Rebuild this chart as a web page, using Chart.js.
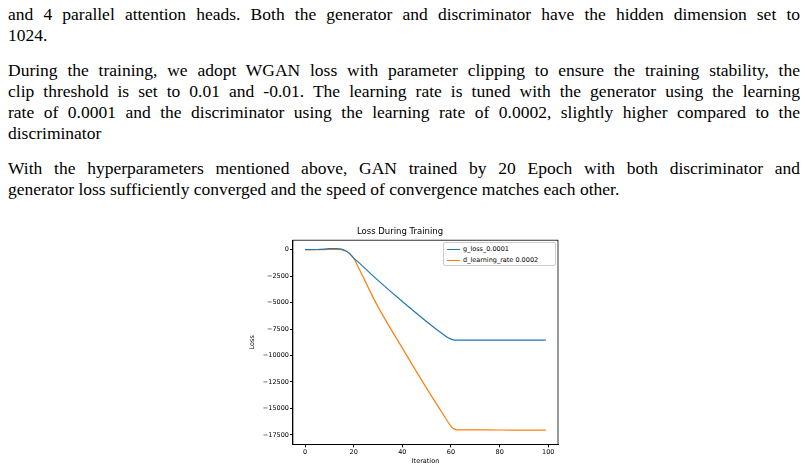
<!DOCTYPE html>
<html>
<head>
<meta charset="utf-8">
<script src="https://cdn.jsdelivr.net/npm/chart.js@4"></script>
<style>
body{margin:0;background:#fff;width:805px;height:465px;overflow:hidden;position:relative}
.txt{position:absolute;left:8px;width:792px;font-family:"Liberation Serif","DejaVu Serif",serif;font-size:17.5px;line-height:21px;color:#000}
.txt div{white-space:nowrap}
.txt .j{text-align:justify;text-align-last:justify;white-space:normal}
.gap{height:14px}
#box{position:absolute;left:240px;top:224px;width:320px;height:241px}
#leg{position:absolute;left:443px;top:242px;width:111px;height:22px;border:1px solid #ccc;border-radius:2px;background:#fff;font-family:"DejaVu Sans",sans-serif;font-size:6.5px;color:#000}
#leg div{position:relative;height:9px;line-height:9px;padding-left:19px;margin-top:2px}
#leg span{position:absolute;left:3px;top:4px;width:13px;height:1.3px}
</style>
</head>
<body>
<div class="txt" style="top:4px">
<div class="j">and 4 parallel attention heads. Both the generator and discriminator have the hidden dimension set to</div>
<div>1024.</div>
<div class="gap"></div>
<div class="j">During the training, we adopt WGAN loss with parameter clipping to ensure the training stability, the</div>
<div class="j">clip threshold is set to 0.01 and -0.01. The learning rate is tuned with the generator using the learning</div>
<div class="j">rate of 0.0001 and the discriminator using the learning rate of 0.0002, slightly higher compared to the</div>
<div>discriminator</div>
<div class="gap"></div>
<div class="j">With the hyperparameters mentioned above, GAN trained by 20 Epoch with both discriminator and</div>
<div>generator loss sufficiently converged and the speed of convergence matches each other.</div>
</div>
<div id="box"><canvas id="c"></canvas></div>
<div id="leg"><div><span style="background:#1f77b4"></span>g_loss_0.0001</div><div><span style="background:#ff7f0e"></span>d_learning_rate 0.0002</div></div>
<script>
const gIter=[0,5,8,10,13,15,17,18,20,22,30,40,50,58,60,61,63,70,80,90,99]
const gLoss=[0,20,60,100,110,60,-150,-300,-800,-1200,-2900,-4900,-6800,-8200,-8450,-8520,-8540,-8545,-8550,-8550,-8550]
const dIter=[0,5,10,13,15,16,18,20,22,30,40,50,58,60,61,62,63,70,80,90,99]
const dLoss=[0,0,20,40,0,-60,-300,-800,-1700,-5400,-9300,-13100,-16000,-16700,-16900,-17000,-17020,-17030,-17040,-17050,-17050]
const xTicks=[0,20,40,60,80,100]
const yTicks=[0,-2500,-5000,-7500,-10000,-12500,-15000,-17500]

const toPts=(xs,ys)=>xs.map((x,i)=>({x:x,y:ys[i]}))
const f={family:"DejaVu Sans",size:6.5}
const frame={id:"frame",afterDraw(ch){const a=ch.chartArea,c=ch.ctx;c.save();c.strokeStyle="#000";c.lineWidth=0.8;c.strokeRect(a.left,a.top,a.right-a.left,a.bottom-a.top);c.restore()}}
new Chart(document.getElementById("c"),{
  type:"line",
  data:{datasets:[
    {label:"g_loss_0.0001",data:toPts(gIter,gLoss),borderColor:"#1f77b4",borderWidth:1.2,pointRadius:0,tension:0.3},
    {label:"d_learning_rate 0.0002",data:toPts(dIter,dLoss),borderColor:"#ff7f0e",borderWidth:1.2,pointRadius:0,tension:0.3}
  ]},
  plugins:[frame],
  options:{
    animation:false,responsive:true,maintainAspectRatio:false,
    layout:{padding:{left:2,right:2,top:0,bottom:0}},
    plugins:{
      title:{display:true,text:"Loss During Training",color:"#000",font:{family:"DejaVu Sans",size:8.5,weight:"normal"},padding:{top:3,bottom:3}},
      legend:{display:false},
      tooltip:{enabled:false}
    },
    scales:{
      x:{type:"linear",min:-5,max:104,grid:{display:true,drawOnChartArea:false,tickLength:3,color:"#000"},border:{color:"#000"},
        afterBuildTicks:a=>{a.ticks=xTicks.map(v=>({value:v}))},
        ticks:{font:f,color:"#000",padding:1},title:{display:true,text:"Iteration",font:f,color:"#000",padding:0}},
      y:{min:-18400,max:900,grid:{display:true,drawOnChartArea:false,tickLength:3,color:"#000"},border:{color:"#000"},
        afterBuildTicks:a=>{a.ticks=yTicks.map(v=>({value:v}))},
        ticks:{font:f,color:"#000",padding:1,callback:v=>String(v).replace("-","\u2212")},
        title:{display:true,text:"Loss",font:f,color:"#000",padding:6}}
    }
  }
})
</script>
</body>
</html>
